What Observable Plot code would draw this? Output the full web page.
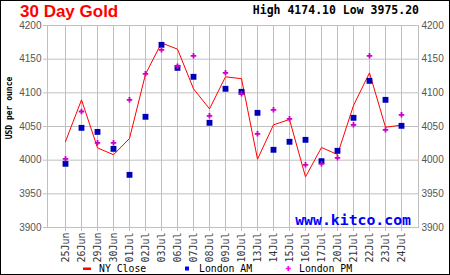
<!DOCTYPE html>
<html>
<head>
<meta charset="utf-8">
<script src="https://cdn.jsdelivr.net/npm/d3@7"></script>
<script src="https://cdn.jsdelivr.net/npm/@observablehq/plot@0.6"></script>
<style>
  html, body { margin: 0; padding: 0; background: white; }
  #chart { width: 450px; height: 275px; }
</style>
</head>
<body>
<div id="chart"></div>
<script>
const dates = ["25Jun","26Jun","29Jun","30Jun","01Jul","02Jul","03Jul","06Jul","07Jul","08Jul","09Jul","10Jul",
               "13Jul","14Jul","15Jul","16Jul","17Jul","20Jul","21Jul","22Jul","23Jul","24Jul"];
const nyClose  = [4027.7,4089.6,4018.3,4008.0,4032.2,4127.7,4174.1,4164.9,4106.0,4076.2,4123.8,4121.0,
                  4001.5,4052.5,4060.4,3975.2,4018.8,4008.4,4081.2,4129.7,4049.0,4052.0];
const londonAM = [3994.6,4048.0,4042.0,4016.8,3978.2,4064.4,4171.3,4137.1,4123.8,4055.5,4106.0,4101.5,
                  4070.3,4015.4,4027.3,4030.2,3998.5,4013.9,4062.9,4117.8,4089.6,4051.0];
const londonPM = [4002.0,4072.3,4025.8,4025.8,4089.6,4128.2,4163.9,4139.6,4155.0,4065.9,4129.7,4098.5,
                  4039.1,4074.8,4061.4,3993.1,3994.6,4003.5,4052.5,4155.0,4045.0,4067.3];
const yTicks = [3900,3950,4000,4050,4100,4150,4200];
const titleText = "30 Day Gold";
const highLowText = "High 4174.10 Low 3975.20";
const yLabel = "USD per ounce";
const siteText = "www.kitco.com";
const legendItems = ["NY Close","London AM","London PM"];

const data = dates.map((d, i) => ({date: d, ny: nyClose[i], am: londonAM[i], pm: londonPM[i]}));

const grid = "#c0c0c0";
const labelFont = "Liberation Sans, Arial, sans-serif";
const mono = "DejaVu Sans Mono, Liberation Mono, monospace";

const chart = Plot.plot({
  width: 450,
  height: 275,
  marginLeft: 47,
  marginRight: 32,
  marginTop: 25,
  marginBottom: 48,
  style: {background: "white", overflow: "visible"},
  x: {type: "point", domain: dates, padding: 1, label: null},
  y: {domain: [3900, 4200], label: null},
  marks: [
    Plot.gridX({stroke: grid, strokeOpacity: 1}),
    Plot.gridY(yTicks, {stroke: grid, strokeOpacity: 1}),
    Plot.frame({stroke: grid}),
    Plot.axisX({tickRotate: -90, tickSize: 4, tickPadding: 1, stroke: grid, fill: "#333",
                fontFamily: mono, fontSize: 10, label: null}),
    Plot.axisY(yTicks, {anchor: "left", tickSize: 4, tickPadding: 2, stroke: grid, fill: "#555",
                fontFamily: labelFont, fontSize: 10, label: null, tickFormat: d => String(d)}),
    Plot.axisY(yTicks, {anchor: "right", tickSize: 0, tickPadding: 3, stroke: grid, fill: "#555",
                fontFamily: labelFont, fontSize: 10, label: null, tickFormat: d => String(d)}),
    Plot.lineY(data, {x: "date", y: "ny", stroke: "#ff0000", strokeWidth: 1}),
    Plot.dot(data, {x: "date", y: "am", symbol: "square", r: 3.3, fill: "#0000bb", stroke: "none"}),
    Plot.dot(data, {x: "date", y: "pm", symbol: "cross", r: 2.3, fill: "#cc00cc", stroke: "none"})
  ]
});

document.getElementById("chart").appendChild(chart);
const svg = d3.select(chart);

svg.append("rect").attr("x", 0.5).attr("y", 0.5).attr("width", 449).attr("height", 274)
  .attr("fill", "none").attr("stroke", "black");

svg.append("text").attr("x", 20).attr("y", 17).attr("text-anchor", "start")
  .attr("font-family", labelFont).attr("font-weight", "bold").attr("font-size", 17)
  .attr("fill", "#ff0000").text(titleText);

svg.append("text").attr("x", 419).attr("y", 14).attr("text-anchor", "end")
  .attr("font-family", mono).attr("font-weight", "bold").attr("font-size", 11.5)
  .attr("fill", "black").text(highLowText);

svg.append("text").attr("transform", "translate(12,108) rotate(-90)").attr("text-anchor", "middle")
  .attr("font-family", mono).attr("font-weight", "bold").attr("font-size", 8)
  .attr("fill", "black").text(yLabel);

svg.append("text").attr("x", 411).attr("y", 225).attr("text-anchor", "end")
  .attr("font-family", mono).attr("font-weight", "bold").attr("font-size", 14.8)
  .attr("fill", "#0000ff").text(siteText);

// legend
const lg = svg.append("g").attr("font-family", mono).attr("font-size", 9.8).attr("fill", "black")
  .attr("text-anchor", "start");
lg.append("rect").attr("x", 83).attr("y", 267.5).attr("width", 8).attr("height", 2.5).attr("fill", "#ff0000");
lg.append("text").attr("x", 99).attr("y", 272).text(legendItems[0]);
lg.append("rect").attr("x", 185).attr("y", 266.5).attr("width", 4).attr("height", 4).attr("fill", "#0000ff");
lg.append("text").attr("x", 199).attr("y", 272).text(legendItems[1]);
lg.append("path").attr("transform", "translate(288.3,268.5)")
  .attr("d", d3.symbol(d3.symbolCross, 14)()).attr("fill", "#ff00ff");
lg.append("text").attr("x", 299).attr("y", 272).text(legendItems[2]);
</script>
</body>
</html>
